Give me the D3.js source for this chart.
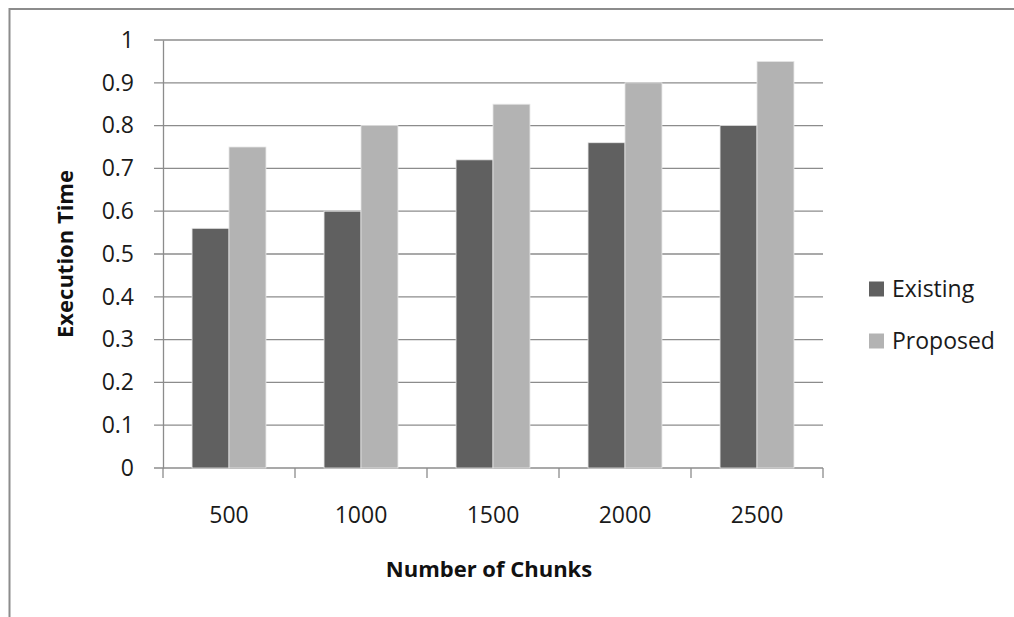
<!DOCTYPE html>
<html><head><meta charset="utf-8">
<script src="https://cdn.jsdelivr.net/npm/d3@7"></script>
<style>body{margin:0;background:#fff;} svg{display:block;}</style>
</head><body>
<svg id="c" width="1014" height="617"></svg>
<script>
const categories = ["500","1000","1500","2000","2500"];
const seriesNames = ["Existing","Proposed"];
const existing = [0.56,0.60,0.72,0.76,0.80];
const proposed = [0.75,0.80,0.85,0.90,0.95];
const yTicks = [0,0.1,0.2,0.3,0.4,0.5,0.6,0.7,0.8,0.9,1];
const colors = ["#606060","#b3b3b3"];

const svg = d3.select("#c");
const font = "'Open Sans', 'Liberation Sans', sans-serif";
svg.append("rect").attr("x",9.5).attr("y",9).attr("width",1020).attr("height",620)
  .attr("fill","none").attr("stroke","#8c8c8c").attr("stroke-width",2);

const L=163,R=823,T=40,B=468;
const x = d3.scaleBand().domain(categories).range([L,R]).paddingInner(0.44).paddingOuter(0.22);
const xs = d3.scaleBand().domain(seriesNames).range([0,x.bandwidth()]);
const y = d3.scaleLinear().domain([0,1]).range([B,T]);

// gridlines
svg.append("g").selectAll("line").data(yTicks).join("line")
  .attr("x1",L-9).attr("x2",R).attr("y1",d=>y(d)).attr("y2",d=>y(d))
  .attr("stroke","#8c8c8c").attr("stroke-width",1.3);

const data = categories.map((c,i)=>({c, vals:[existing[i],proposed[i]]}));
const g = svg.append("g").selectAll("g").data(data).join("g")
  .attr("transform",d=>`translate(${x(d.c)},0)`);
g.selectAll("rect").data(d=>d.vals.map((v,j)=>({v,s:seriesNames[j],j}))).join("rect")
  .attr("x",d=>xs(d.s)).attr("width",xs.bandwidth())
  .attr("y",d=>y(d.v)).attr("height",d=>B-y(d.v))
  .attr("fill",d=>colors[d.j]).attr("stroke","#e6e6e6").attr("stroke-width",0.8);

// y axis
const ya = svg.append("g").attr("transform",`translate(${L},0)`)
  .call(d3.axisLeft(y).tickValues(yTicks).tickSize(0).tickPadding(29).tickFormat(d3.format("")));
ya.select(".domain").attr("stroke","#8c8c8c").attr("stroke-width",1.3);
ya.selectAll("text").attr("font-family",font).attr("font-size",23).attr("fill","#1a1a1a");

// x axis
const xa = svg.append("g").attr("transform",`translate(0,${B})`)
  .call(d3.axisBottom(x).tickSize(0).tickPadding(39));
xa.select(".domain").remove();
xa.selectAll("text").attr("font-family",font).attr("font-size",23).attr("fill","#1a1a1a");
const bounds = [L].concat(categories.map(c=>x(c)+x.bandwidth()+x.step()*x.paddingInner()/2));
bounds[bounds.length-1]=R;
svg.append("g").selectAll("line").data(bounds).join("line")
  .attr("x1",d=>d).attr("x2",d=>d).attr("y1",B).attr("y2",B+10)
  .attr("stroke","#8c8c8c").attr("stroke-width",1.3);

// axis titles
svg.append("text").attr("x",489).attr("y",577).attr("text-anchor","middle")
  .attr("font-family",font).attr("font-weight","bold").attr("font-size",22).attr("fill","#111")
  .text("Number of Chunks");
svg.append("text").attr("transform","translate(73,254) rotate(-90)").attr("text-anchor","middle")
  .attr("font-family",font).attr("font-weight","bold").attr("font-size",22).attr("fill","#111")
  .text("Execution Time");

// legend
const lg = svg.append("g").selectAll("g").data(seriesNames).join("g")
  .attr("transform",(d,i)=>`translate(869,${289+i*52})`);
lg.append("rect").attr("x",0).attr("y",-7.5).attr("width",15).attr("height",15).attr("fill",(d,i)=>colors[i]);
lg.append("text").attr("x",23).attr("y",0).attr("dy","0.35em")
  .attr("font-family",font).attr("font-size",23).attr("fill","#1a1a1a").text(d=>d);
</script>
</body></html>
